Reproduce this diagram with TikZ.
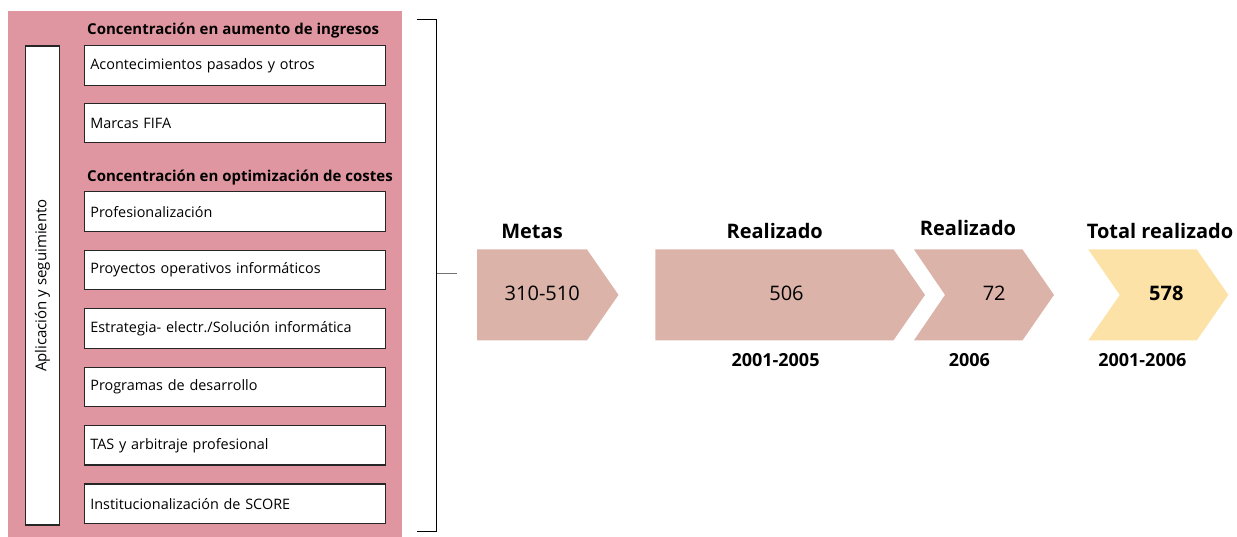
\documentclass[tikz,border=0pt]{standalone}
\usepackage{fontspec}
\setmainfont{Open Sans}
\usetikzlibrary{positioning}

\definecolor{panelpink}{RGB}{224,150,160}
\definecolor{chevbrown}{RGB}{219,179,168}
\definecolor{chevyellow}{RGB}{252,226,166}

\tikzset{
    itembox/.style={draw=black!85, line width=1.2pt, fill=white,
        minimum width=300.5pt, minimum height=39.5pt, inner sep=0pt,
        text width=289pt, align=left, anchor=north west,
        font=\fontsize{14.4}{17}\selectfont},
    grouphead/.style={anchor=base west, inner sep=0pt,
        font=\bfseries\fontsize{15}{18}\selectfont},
    coltitle/.style={anchor=base, inner sep=0pt,
        font=\bfseries\fontsize{20}{24}\selectfont},
    colvalue/.style={anchor=base, inner sep=0pt,
        font=\fontsize{20}{24}\selectfont},
    colyear/.style={anchor=base, inner sep=0pt,
        font=\bfseries\fontsize{18}{22}\selectfont}
}

% chevron: colour, left x, tip x, notch depth
\newcommand{\chevshape}[4]{%
    \fill[#1] (#2,249.5) -- (#3-31.5,249.5) -- (#3,294.9) -- (#3-31.5,340.3)
        -- (#2,340.3) -- (#2+#4,294.9) -- cycle;}

\begin{document}
\begin{tikzpicture}[x=1pt, y=-1pt]
\useasboundingbox (0,0) rectangle (1237,537);

% left panel
\fill[panelpink] (8,11) rectangle (402,537);
\node[draw=black!85, line width=1.2pt, fill=white, minimum width=34.4pt,
    minimum height=479pt, inner sep=0pt] (aplicacion) at (42.5,285.5) {};
\node[rotate=90, font=\fontsize{15}{18}\selectfont] at (aplicacion.center)
    {Aplicación y seguimiento};

\node[grouphead] (ingresos) at (87,35) {Concentración en aumento de ingresos};
\node[itembox] (acontecimientos) at (84,45.3) {Acontecimientos pasados y otros};
\node[itembox, below=16.7pt of acontecimientos] (marcas) {Marcas FIFA};

\node[grouphead] (costes) at (87,181.5) {Concentración en optimización de costes};
\node[itembox] (profesional) at (84,191.3) {Profesionalización};
\node[itembox, below=17.7pt of profesional] (proyectos) {Proyectos operativos informáticos};
\node[itembox, below=17.7pt of proyectos] (estrategia) {Estrategia- electr./Solución informática};
\node[itembox, below=17.7pt of estrategia] (programas) {Programas de desarrollo};
\node[itembox, below=17.7pt of programas] (tas) {TAS y arbitraje profesional};
\node[itembox, below=17.7pt of tas] (score) {Institucionalización de SCORE};

% bracket
\coordinate (brtop) at (416.5,19.3);
\coordinate (brbot) at (416.5,531.7);
\coordinate (brmid) at (436.7,273.7);
\draw[line width=1.3pt] (brtop) -| (brmid) |- (brbot);
\draw[line width=1.3pt, black!55] (brmid) -- ++(20,0);

% chevrons
\chevshape{chevbrown}{477}{618.5}{0}
\chevshape{chevbrown}{655.3}{925}{0}
\chevshape{chevbrown}{914}{1054}{31}
\chevshape{chevyellow}{1088.3}{1228.3}{31.5}

\node[coltitle] (metas) at (532,239) {Metas};
\node[coltitle] (realizadoa) at (774.7,239) {Realizado};
\node[coltitle] (realizadob) at (968,236) {Realizado};
\node[coltitle] (total) at (1160,238.3) {Total realizado};

\node[colvalue] (vmetas) at (542.2,300.7) {310-510};
\node[colvalue] (vrealizadoa) at (786.5,300.7) {506};
\node[colvalue] (vrealizadob) at (994.2,300.7) {72};
\node[colvalue, font=\bfseries\fontsize{20}{24}\selectfont] (vtotal) at (1166.3,300.7) {578};

\node[colyear] (ya) at (775.5,366.7) {2001-2005};
\node[colyear] (yb) at (969.3,366.7) {2006};
\node[colyear] (ytotal) at (1142.3,366.7) {2001-2006};
\end{tikzpicture}
\end{document}
